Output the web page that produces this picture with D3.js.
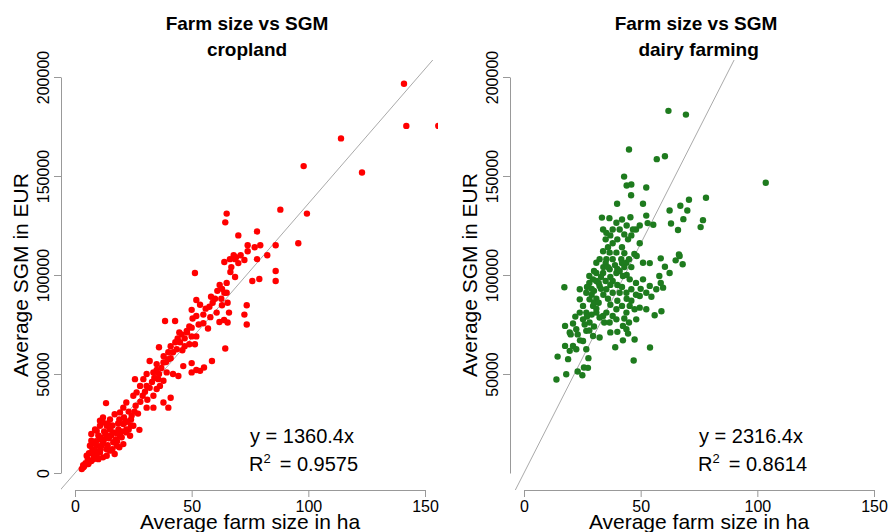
<!DOCTYPE html>
<html><head><meta charset="utf-8">
<script src="https://cdn.jsdelivr.net/npm/d3@7"></script>
<style>body{margin:0;background:#fff}svg{font-family:"Liberation Sans",Arial,sans-serif}</style>
</head><body><svg id="c" width="889" height="532"></svg>
<script>
const xTicks=[0,50,100,150];
const yTicksLeft=[0,50000,100000,150000,200000];
const yTicksRight=[50000,100000,150000,200000];
// cropland: [ha, SGM thousand EUR]
const cropland=[[141,196.6],[142,175.3],[155.7,175.3],[114,169],[123,151.8],[98,155],[88,133],[99.4,131],[95.7,116],[86,115],[86,102],[86,97],[82.4,110],[79,98],[76,97],[78,108],[79.4,115],[78,122],[77,114],[74,115],[74,112],[72.6,107.6],[70,120],[65,131],[64.4,126.6],[64,106.6],[66.6,101.5],[68.6,99],[68.6,108],[70,106],[68,110],[66.4,108],[73.6,84.7],[72.6,80],[73.6,75],[64.4,62.9],[51.4,101],[52,87.4],[50,82.4],[53.6,85],[57.6,84],[58.3,89],[60,88],[62.7,88],[64,91],[65,91],[63,84.7],[65.4,86],[66,81],[65.4,76],[63.9,77.3],[61.9,76.3],[60.7,81],[57,73],[58,78.7],[55,75.6],[52,79.3],[50.4,78],[50,73.4],[47.9,71.8],[45.7,70],[44.7,71],[47,64],[49,65],[51.4,65],[52,69],[50,69],[47,68],[45,66],[43.6,62.5],[42,61],[41,58],[38.6,76.8],[42.9,76.8],[52,52],[50,50.8],[50,55.5],[53.6,51.6],[55.3,53.3],[58.7,56.6],[46.4,54],[44.3,49],[42,50],[39.3,50.8],[37.9,46.6],[35.7,47.4],[36.4,44],[35,42.4],[33.6,39],[30.7,33],[33.6,33],[37.9,35.6],[40,33],[41,38],[36,63.5],[32,56.6],[35,55],[37.9,55.8],[40,57.5],[33.6,50.8],[30.7,50],[29.3,47.4],[27.9,44],[26.4,40.7],[25,39],[30.7,44],[25.7,47.4],[22,35.6],[20.7,33],[13.3,35.3],[19.3,30.6],[17,29.7],[15,27],[12,28],[10.7,26.4],[9.3,21.3],[7,16.3],[6.4,13.8],[5,8.7],[2.9,2],[3.6,2.9],[5.7,4.5],[7.9,7],[10.7,10.4],[13.6,12],[17,9.6],[16.4,15.5],[19.3,18.8],[22,22],[25,23.9],[23.6,18.8],[27.6,21.8],[24.3,29],[20.7,24.7],[18.6,22],[16.4,20.5],[13.6,18.8],[12,15.5],[9.3,13.8],[10.7,17],[8.6,10.4],[10,7],[12,7.9],[13.6,8.7],[15,11.3],[17.9,13.8],[20.7,14.6],[22,20.5],[21.4,25.5],[13.6,23.9],[10.7,23.9],[8.6,22],[7,19.7],[15,22],[12,25.5],[4,3.5],[6,5.5],[7,6],[8,9],[9,11],[9.5,8],[11,12],[11.5,14],[12.5,17],[13,20],[14,14],[14.5,17.5],[15.5,19],[16,24],[17.5,17],[18,20],[18.5,25],[19,27],[20,21],[21,28],[22.5,26],[23,31],[24,27],[25.5,31],[26,34],[27,30],[28,36],[29,39],[30,41],[31,37],[32,43],[33,46],[34,48],[35,52],[36,50],[37,53],[38,59],[39,56],[40,61],[41,64],[43,66],[44,68],[46,62],[48,71],[49,74],[53,75],[55,80],[56,83],[59,86],[61,92],[62,95],[63,93],[65,96],[67,104],[69,109],[71,110],[11,18],[12.5,21],[14,25],[9,16],[6,10],[7.5,12],[8,15],[10,19],[16,12],[18,16],[19,13],[20,18],[23,22],[24,24],[5.5,7],[4.5,5],[3.5,4]];
// dairy farming
const dairy=[[61.9,182.9],[69.4,181],[45,163.4],[56.9,158.5],[60.4,160],[103.6,146.6],[42.9,149.7],[44,145.2],[46,145.7],[52.4,144.2],[45.9,140.3],[39.9,136],[51,136],[70.7,138],[78,139],[67,135],[62.4,132.6],[70,132.6],[68.3,128.2],[76.7,127.7],[75.7,124.2],[66,122.7],[63,126],[55.4,125.4],[53,126.2],[52.4,130],[49.6,125],[48,123],[46.7,123],[45.6,129.2],[42,128],[39.6,126.4],[36.6,128.7],[33.4,129],[33.9,123],[35.3,121.3],[38,123],[41,123],[43,120.5],[44.6,118],[49.6,116],[47.3,110.6],[48.3,109.6],[43,111],[39.6,111.3],[36.7,111.3],[33.9,112],[32.4,108],[31,106.2],[35.3,108],[38,108],[41.7,108],[43.9,106.2],[51,106.2],[53.9,106],[58.6,108.4],[60.4,104.2],[62.4,101],[65,107.4],[66.7,109.6],[68,105.4],[66.4,110.4],[58,99.5],[58.6,96],[59.6,93.6],[56.7,92.8],[53.9,94.5],[51,97.8],[48,96],[46,92.8],[43.9,91],[41,91],[38,91],[35.3,92.8],[32.4,94.5],[29.6,97.8],[28,99.5],[31,101],[33.9,101],[36.7,102.9],[39.6,101],[42.4,99.5],[45.3,97.8],[49.6,89.4],[52.4,91],[54.6,89],[52.4,82.7],[49.6,83.5],[47.4,82.7],[45.3,84.4],[43.9,81],[42,84.4],[39.6,82.7],[38,79.3],[35.3,81],[33.9,79.3],[34.4,76],[36.7,76],[39.6,77.6],[42.4,74.3],[43.9,72.6],[48.1,77.6],[56,79.7],[58.9,81.7],[40,71.3],[37,71],[32.4,68.4],[29.6,69.2],[26.7,71.8],[28.1,76],[25.3,77.6],[23.9,81],[26.7,81],[25.3,84.4],[23.9,87.7],[23.9,92.8],[26.7,91],[28.1,87.7],[29.6,84.4],[31,81],[32.4,78.5],[17.3,93.8],[17.6,74.3],[21,75.5],[19.6,71],[22.4,72.6],[17.6,64.2],[21,64.2],[22.4,62.5],[19.6,61.7],[18.9,57.5],[14.4,58.8],[18.1,49.9],[13.9,47.2],[23,51.3],[25,49.4],[25.7,53.3],[27.4,53.1],[27.6,58],[26.7,62.5],[25.3,66.7],[39.1,63.5],[42.4,67],[47.4,67.4],[47,56.8],[54,63.4],[44.6,70.4],[29,90],[30,92],[31,88],[32,96],[33,99],[34,104],[35,106],[36,104],[37,99],[38,97],[39,105],[40,103],[41,102],[42,106],[43,104],[44,100],[45,108],[46,104],[30,86],[31,83],[29,80],[27,79],[26,75],[28,72],[30,74],[32,86],[34,90],[36,88],[37,95],[40,95],[42,94],[44,88],[46,87],[48,90],[50,93],[36,114],[38,116],[40,118],[42,114],[35,118],[37,120],[44,125],[46,120],[30,102],[28,96],[27,94],[29,93],[31,97],[33,93],[35,97],[37,85],[40,87],[43,78],[45,76],[23,70],[24,67],[22,79],[20,70]];
const title1=["Farm size vs SGM","cropland"], title2=["Farm size vs SGM"," dairy farming"];
const eq1=["y = 1360.4x","0.9575"], eq2=["y = 2316.4x","0.8614"];
const svg=d3.select("#c");
function panel(ox,data,slope,col,yT,titles,eq){
  const x=d3.scaleLinear().domain([0,150]).range([ox+75,ox+425]);
  const y=d3.scaleLinear().domain([0,200000]).range([473,77]);
  const g=svg.append("g");
  const cid="clip"+ox;
  svg.append("clipPath").attr("id",cid).append("rect").attr("x",ox+61).attr("y",60).attr("width",377).attr("height",430);
  const xa=g.append("g").attr("transform","translate(0,490)").call(d3.axisBottom(x).tickValues(xTicks).tickSize(7).tickPadding(2).tickSizeOuter(0));
  const ya=g.append("g").attr("transform",`translate(${ox+61},0)`).call(d3.axisLeft(y).tickValues(yT).tickSize(7).tickSizeOuter(0).tickFormat(d3.format("d")));
  [xa,ya].forEach(a=>{a.selectAll("path,line").attr("stroke","#999");a.selectAll("text").attr("font-size",16).attr("fill","#000").attr("font-family","Liberation Sans, Arial");});
  xa.selectAll("text").attr("dy","0.8em");
  ya.selectAll("text").attr("x",0).attr("y",0).attr("dy",0).attr("text-anchor","middle").attr("transform","translate(-12,0) rotate(-90)");
  const gp=g.append("g").attr("clip-path",`url(#${cid})`);
  gp.append("line").attr("x1",x(-10)).attr("y1",y(-10*slope)).attr("x2",x(160)).attr("y2",y(160*slope)).attr("stroke","#aaa").attr("stroke-width",1);
  gp.selectAll("circle").data(data).join("circle").attr("cx",d=>x(d[0])).attr("cy",d=>y(d[1]*1000)).attr("r",3.2).attr("fill",col);
  const cx=ox+247;
  g.append("text").attr("x",cx).attr("y",30).attr("text-anchor","middle").attr("font-weight","bold").attr("font-size",19).text(titles[0]);
  g.append("text").attr("x",cx).attr("y",56).attr("text-anchor","middle").attr("font-weight","bold").attr("font-size",19).style("white-space","pre").text(titles[1]);
  g.append("text").attr("x",ox+250).attr("y",529).attr("text-anchor","middle").attr("font-size",21).text("Average farm size in ha");
  g.append("text").attr("transform",`translate(${ox+28},275) rotate(-90)`).attr("text-anchor","middle").attr("font-size",21).text("Average SGM in EUR");
  g.append("text").attr("x",ox+250).attr("y",443).attr("font-size",20).text(eq[0]);
  const t=g.append("text").attr("x",ox+249).attr("y",471).attr("font-size",20);
  t.append("tspan").text("R");
  t.append("tspan").attr("dy",-8).attr("font-size",13).text("2");
  t.append("tspan").attr("dy",8).attr("dx",9).text("= "+eq[1]);
}
panel(0,cropland,1360.4,"#ff0000",yTicksLeft,title1,eq1);
panel(449,dairy,2316.4,"#1e7b1e",yTicksRight,title2,eq2);
</script></body></html>
